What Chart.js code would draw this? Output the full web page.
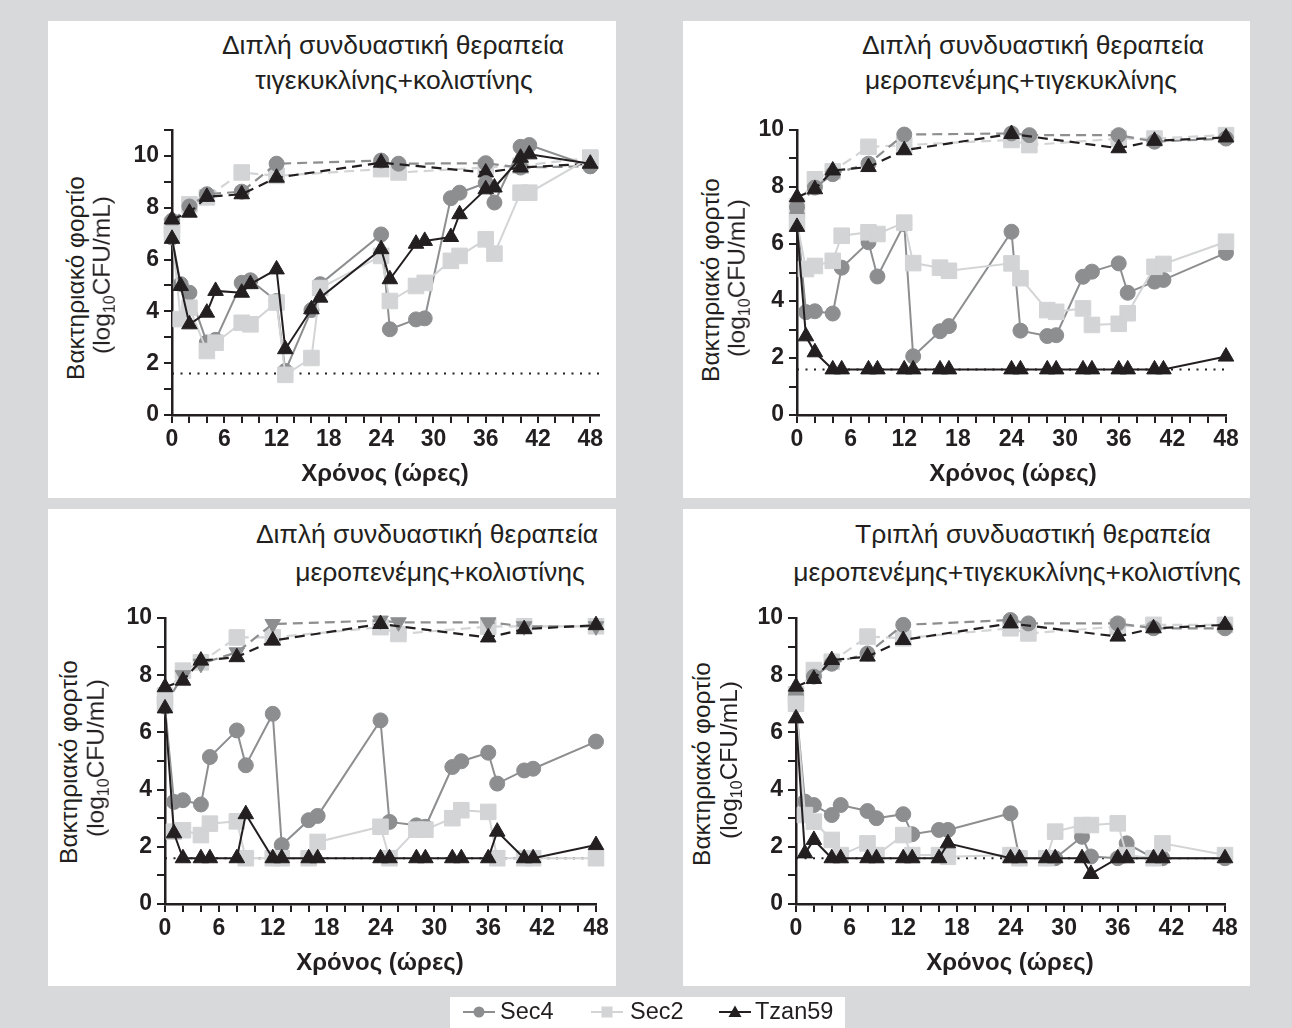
<!DOCTYPE html>
<html>
<head>
<meta charset="utf-8">
<script src="https://cdn.jsdelivr.net/npm/chart.js@4.4.1/dist/chart.umd.min.js"></script>
<style>
  body { margin:0; width:1292px; height:1028px; background:#d8d9db; position:relative; overflow:hidden;
         font-family:'Liberation Sans', Arial, sans-serif; color:#231f20; }
  .panel { position:absolute; background:#fff; }
  canvas { position:absolute; }
  .t  { position:absolute; white-space:nowrap; transform:translate(-50%,-50%); font-size:26.5px; line-height:1; }
  .yt { position:absolute; white-space:nowrap; transform:translate(-50%,-50%) rotate(-90deg); font-size:24.5px; line-height:1; }
  .yt sub { font-size:16px; vertical-align:-5px; line-height:0; }
  .xt { position:absolute; white-space:nowrap; transform:translate(-50%,-50%); font-size:24px; font-weight:bold; line-height:1; }
  .lg { position:absolute; white-space:nowrap; font-size:23.5px; line-height:1; transform:translateY(-50%); }
</style>
</head>
<body>
<div class="panel" style="left:48px;top:21px;width:568px;height:477px"></div>
<div class="panel" style="left:683px;top:21px;width:567px;height:477px"></div>
<div class="panel" style="left:48px;top:509px;width:568px;height:477px"></div>
<div class="panel" style="left:683px;top:509px;width:567px;height:477px"></div>
<div class="panel" style="left:450px;top:997px;width:395px;height:31px"></div>

<script>
// --- data (log10 CFU/mL) ---
const TIMES = [0, 1, 2, 4, 5, 8, 9, 12, 13, 16, 17, 24, 25, 28, 29, 32, 33, 36, 37, 40, 41, 48];
const CTRL_TIMES = [0, 2, 4, 8, 12, 24, 26, 36, 40, 48];
const X_TICK_LABELS = [0, 6, 12, 18, 24, 30, 36, 42, 48];
const Y_TICK_LABELS = [0, 2, 4, 6, 8, 10];
const LOD = 1.6;
const SERIES = ['Sec4', 'Sec2', 'Tzan59'];

// panel 1: tigecycline + colistin
const p1Sec4 = [6.85, 5.05, 4.72, 2.8, 2.9, 5.1, 5.2, 4.4, 1.7, 4.05, 5.05, 6.97, 3.31, 3.69, 3.73, 8.37, 8.58, 8.95, 8.2, 10.35, 10.42, 9.6];
const p1Sec2 = [7.0, 3.7, 4.14, 2.47, 2.79, 3.56, 3.5, 4.34, 1.55, 2.2, 4.9, 6.14, 4.4, 4.98, 5.1, 5.95, 6.14, 6.78, 6.23, 8.58, 8.58, 9.93];
const p1Tzan = [6.8, 4.98, 3.5, 3.95, 4.79, 4.72, 5.05, 5.62, 2.54, 4.08, 4.53, 6.4, 5.24, 6.61, 6.72, 6.87, 7.75, 8.71, 8.78, 9.93, 10.06, 9.7];
const p1Sec4Ctrl = [7.5, 8.05, 8.52, 8.62, 9.7, 9.82, 9.7, 9.72, 9.55, 9.6];
const p1Sec2Ctrl = [7.3, 8.13, 8.4, 9.36, 9.23, 9.49, 9.36, 9.55, 9.62, 9.93];
const p1TzanCtrl = [7.55, 7.81, 8.42, 8.52, 9.16, 9.74, null, 9.36, 9.55, 9.7];

// panel 2: meropenem + tigecycline
const p2Sec4 = [7.0, 3.61, 3.64, 3.56, 5.17, 6.06, 4.86, 6.7, 2.06, 2.94, 3.12, 6.43, 2.96, 2.77, 2.8, 4.85, 5.03, 5.32, 4.29, 4.68, 4.74, 5.69];
const p2Sec2 = [6.76, 5.12, 5.23, 5.41, 6.29, 6.41, 6.35, 6.75, 5.33, 5.17, 5.06, 5.32, 4.8, 3.68, 3.62, 3.74, 3.16, 3.2, 3.57, 5.2, 5.3, 6.08];
const p2Tzan = [6.6, 2.76, 2.2, 1.6, 1.6, 1.6, 1.6, 1.6, 1.6, 1.6, 1.6, 1.6, 1.6, 1.6, 1.6, 1.6, 1.6, 1.6, 1.6, 1.6, 1.6, 2.05];
const p2Sec4Ctrl = [7.3, 7.98, 8.45, 8.82, 9.84, 9.88, 9.82, 9.82, 9.59, 9.7];
const p2Sec2Ctrl = [7.33, 8.27, 8.55, 9.41, 9.47, 9.65, 9.47, 9.7, 9.7, 9.82];
const p2TzanCtrl = [7.64, 7.92, 8.58, 8.7, 9.29, 9.86, null, 9.36, 9.62, 9.74];

// panel 3: meropenem + colistin
const p3Sec4 = [6.9, 3.57, 3.63, 3.48, 5.14, 6.07, 4.85, 6.65, 2.06, 2.93, 3.08, 6.42, 2.87, 2.75, 2.7, 4.79, 4.99, 5.29, 4.21, 4.67, 4.73, 5.68];
const p3Sec2 = [7.0, 2.53, 2.58, 2.41, 2.81, 2.89, 1.6, 1.6, 1.6, 1.6, 2.17, 2.7, 1.6, 2.6, 2.6, 3.0, 3.28, 3.22, 1.6, 1.6, 1.6, 1.6];
const p3Tzan = [6.84, 2.47, 1.6, 1.6, 1.6, 1.6, 3.14, 1.6, 1.6, 1.6, 1.6, 1.6, 1.6, 1.6, 1.6, 1.6, 1.6, 1.6, 2.53, 1.6, 1.6, 2.06];
const p3Sec4Ctrl = [6.94, 8.0, 8.4, 8.8, 9.79, 9.91, 9.85, 9.85, 9.71, 9.71];
const p3Sec2Ctrl = [7.29, 8.16, 8.45, 9.32, 9.32, 9.68, 9.44, 9.7, 9.71, 9.71];
const p3TzanCtrl = [7.58, 7.81, 8.51, 8.63, 9.21, 9.79, null, 9.32, 9.61, 9.75];

// panel 4: meropenem + tigecycline + colistin
const p4Sec4 = [6.96, 3.58, 3.46, 3.11, 3.46, 3.25, 3.0, 3.14, 2.44, 2.59, 2.59, 3.17, 1.6, 1.6, 1.6, 2.35, 1.66, 1.6, 2.12, 1.6, 1.6, 1.6];
const p4Sec2 = [7.0, 3.11, 2.88, 2.24, 1.71, 2.12, 1.71, 2.41, 1.71, 1.71, 1.65, 1.71, 1.6, 1.6, 2.53, 2.76, 2.76, 2.82, 1.71, 1.6, 2.12, 1.71];
const p4Tzan = [6.49, 1.77, 2.24, 1.6, 1.6, 1.6, 1.6, 1.6, 1.6, 1.6, 2.12, 1.6, 1.6, 1.6, 1.6, 1.6, 1.05, 1.6, 1.6, 1.6, 1.6, 1.6];
const p4Sec4Ctrl = [7.3, 7.95, 8.4, 8.76, 9.76, 9.93, 9.81, 9.81, 9.64, 9.64];
const p4Sec2Ctrl = [7.33, 8.18, 8.47, 9.35, 9.29, 9.64, 9.46, 9.7, 9.76, 9.76];
const p4TzanCtrl = [7.6, 7.87, 8.53, 8.65, 9.23, 9.81, null, 9.35, 9.64, 9.76];

const INK = '#231f20';
const styles = {
    Sec4:   { color: '#8d8e90', point: 'circle',   r: 7.5 },
    Sec2:   { color: '#d3d4d6', point: 'rect',     r: 11 },
    Tzan59: { color: '#231f20', point: 'triangle', r: 9 }
};

const panels = [
    { area: [172, 130, 599, 415], xMax: 49, yMax: 11,
      title: [['Διπλή συνδυαστική θεραπεία', 393, 45], ['τιγεκυκλίνης+κολιστίνης', 394, 80]],
      ytitle: [[76, 278], [102, 275]], xtitle: [385, 473],
      treat: [p1Sec4, p1Sec2, p1Tzan], ctrl: [p1Sec4Ctrl, p1Sec2Ctrl, p1TzanCtrl] },
    { area: [797, 130, 1226, 415], xMax: 48, yMax: 10,
      title: [['Διπλή συνδυαστική θεραπεία', 1033, 45], ['μεροπενέμης+τιγεκυκλίνης', 1021, 80]],
      ytitle: [[711, 280], [737, 278]], xtitle: [1013, 473],
      treat: [p2Sec4, p2Sec2, p2Tzan], ctrl: [p2Sec4Ctrl, p2Sec2Ctrl, p2TzanCtrl] },
    { area: [165, 618, 596, 904], xMax: 48, yMax: 10, invertedSec4Ctrl: true,
      title: [['Διπλή συνδυαστική θεραπεία', 427, 534], ['μεροπενέμης+κολιστίνης', 440, 572]],
      ytitle: [[69, 762], [96, 758]], xtitle: [380, 962],
      treat: [p3Sec4, p3Sec2, p3Tzan], ctrl: [p3Sec4Ctrl, p3Sec2Ctrl, p3TzanCtrl] },
    { area: [796, 618, 1225, 904], xMax: 48, yMax: 10,
      title: [['Τριπλή συνδυαστική θεραπεία', 1033, 534], ['μεροπενέμης+τιγεκυκλίνης+κολιστίνης', 1017, 572]],
      ytitle: [[702, 764], [729, 760]], xtitle: [1010, 962],
      treat: [p4Sec4, p4Sec2, p4Tzan], ctrl: [p4Sec4Ctrl, p4Sec2Ctrl, p4TzanCtrl] }
];

function addText(cls, html, x, y) {
    const d = document.createElement('div');
    d.className = cls;
    d.innerHTML = html;
    d.style.left = x + 'px';
    d.style.top = y + 'px';
    document.body.appendChild(d);
    return d;
}

function makeDataset(xs, ys, name, isCtrl, order, inverted) {
    const s = styles[name];
    return {
        label: name + (isCtrl ? ' control' : ''),
        data: xs.map((x, i) => ({ x: x, y: ys[i] })),
        borderColor: s.color,
        backgroundColor: s.color,
        pointBackgroundColor: s.color,
        pointBorderColor: s.color,
        pointBorderWidth: 1,
        // panel 3 draws the Sec4 control with down-pointing triangles
        pointStyle: inverted ? 'triangle' : s.point,
        pointRadius: inverted ? 9 : s.r,
        pointRotation: inverted ? 180 : 0,
        borderWidth: isCtrl ? 2.2 : 2,
        borderDash: isCtrl ? [10, 6] : [],
        spanGaps: true,
        tension: 0,
        clip: false,
        order: order
    };
}

function range(a, b, step) {
    const out = [];
    for (let v = a; v <= b; v += step) out.push(v);
    return out;
}

function makeChart(p) {
    const [L, T, R, B] = p.area;
    const PADL = 70, PADT = 20, PADR = 30, PADB = 50;
    const cv = document.createElement('canvas');
    cv.width = R - L + PADL + PADR;
    cv.height = B - T + PADT + PADB;
    cv.style.left = (L - PADL) + 'px';
    cv.style.top = (T - PADT) + 'px';
    cv.style.width = cv.width + 'px';
    cv.style.height = cv.height + 'px';
    document.body.appendChild(cv);

    const datasets = [];
    // treatment lines on top, Tzan59 topmost
    datasets.push(makeDataset(TIMES, p.treat[2], 'Tzan59', false, 0));
    datasets.push(makeDataset(TIMES, p.treat[1], 'Sec2', false, 1));
    datasets.push(makeDataset(TIMES, p.treat[0], 'Sec4', false, 2));
    datasets.push(makeDataset(CTRL_TIMES, p.ctrl[2], 'Tzan59', true, 3));
    datasets.push(makeDataset(CTRL_TIMES, p.ctrl[0], 'Sec4', true, 4, p.invertedSec4Ctrl));
    datasets.push(makeDataset(CTRL_TIMES, p.ctrl[1], 'Sec2', true, 5));
    datasets.push({
        label: 'LOD', data: [{ x: 0, y: LOD }, { x: p.xMax, y: LOD }],
        borderColor: INK, borderWidth: 2, borderDash: [2, 6.5], pointRadius: 0, clip: false, order: 6
    });

    const tickFont = { family: "'Liberation Sans', Arial, sans-serif", size: 23, weight: 'bold' };
    const axisGrid = { drawOnChartArea: false, drawTicks: true, tickLength: 8, color: INK, lineWidth: 2 };

    new Chart(cv, {
        type: 'line',
        data: { datasets: datasets },
        options: {
            responsive: false,
            animation: false,
            events: [],
            layout: { padding: { left: 0, top: PADT, right: PADR, bottom: 0 } },
            plugins: { legend: { display: false }, tooltip: { enabled: false } },
            scales: {
                x: {
                    type: 'linear', min: 0, max: p.xMax,
                    afterFit: s => { s.height = PADB; },
                    afterBuildTicks: s => { s.ticks = range(0, 48, 2).map(v => ({ value: v })); },
                    ticks: { font: tickFont, color: INK, padding: 3, maxRotation: 0, autoSkip: false,
                             callback: v => X_TICK_LABELS.includes(v) ? String(v) : '' },
                    grid: axisGrid,
                    border: { display: true, color: INK, width: 2.5 }
                },
                y: {
                    type: 'linear', min: 0, max: p.yMax,
                    afterFit: s => { s.width = PADL; },
                    afterBuildTicks: s => { s.ticks = range(0, p.yMax, 1).map(v => ({ value: v })); },
                    ticks: { font: tickFont, color: INK, padding: 5, autoSkip: false,
                             callback: v => Y_TICK_LABELS.includes(v) ? String(v) : '' },
                    grid: axisGrid,
                    border: { display: true, color: INK, width: 2.5 }
                }
            }
        }
    });

    p.title.forEach(t => addText('t', t[0], t[1], t[2]));
    addText('yt', 'Βακτηριακό φορτίο', p.ytitle[0][0], p.ytitle[0][1]);
    addText('yt', '(log<sub>10</sub>CFU/mL)', p.ytitle[1][0], p.ytitle[1][1]);
    addText('xt', 'Χρόνος (ώρες)', p.xtitle[0], p.xtitle[1]);
}

panels.forEach(makeChart);

// legend: line + marker icon and label for each strain
const legendX = [[462, 500], [590, 630], [718, 755]];
SERIES.forEach((name, i) => {
    const s = styles[name];
    const icon = document.createElementNS('http://www.w3.org/2000/svg', 'svg');
    icon.setAttribute('width', '34');
    icon.setAttribute('height', '20');
    icon.style.position = 'absolute';
    icon.style.left = legendX[i][0] + 'px';
    icon.style.top = '1002px';
    let marker = '';
    if (s.point === 'circle') marker = `<circle cx="17" cy="10" r="5.5" fill="${s.color}"/>`;
    else if (s.point === 'rect') marker = `<rect x="11.5" y="4.5" width="11" height="11" fill="${s.color}"/>`;
    else marker = `<polygon points="17,3.5 23.5,15 10.5,15" fill="${s.color}"/>`;
    icon.innerHTML = `<line x1="1" y1="10" x2="33" y2="10" stroke="${s.color}" stroke-width="2"/>` + marker;
    document.body.appendChild(icon);
    addText('lg', name, legendX[i][1], 1012);
});
</script>
</body>
</html>
